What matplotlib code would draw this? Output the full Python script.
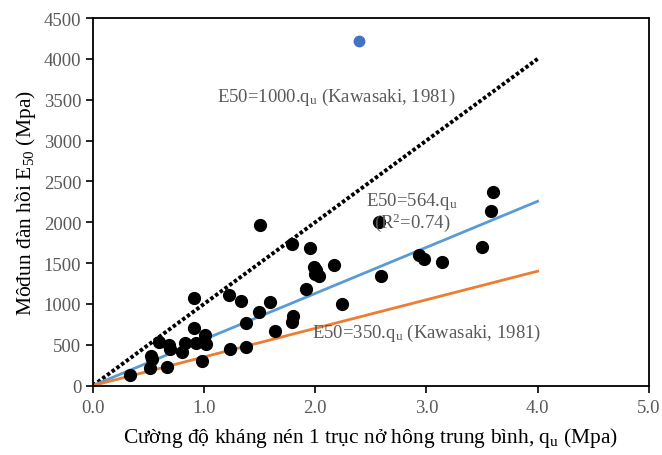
import matplotlib
matplotlib.use("Agg")
from matplotlib import pyplot as plt
import numpy as np

plt.rcParams['font.family'] = ['Liberation Serif', 'DejaVu Serif']
plt.rcParams['mathtext.fontset'] = 'custom'
plt.rcParams['mathtext.rm'] = 'Liberation Serif'
plt.rcParams['mathtext.it'] = 'Liberation Serif:italic'

# measured points (qu in Mpa, E50 in Mpa)
qu = [0.33, 0.51, 0.52, 0.53, 0.59, 0.67, 0.68, 0.69, 0.80, 0.83,
      0.91, 0.91, 0.93, 0.98, 1.01, 1.02, 1.22, 1.23, 1.33, 1.38,
      1.38, 1.49, 1.50, 1.59, 1.64, 1.79, 1.79, 1.80, 1.92, 1.95,
      1.99, 2.00, 2.03, 2.01, 2.17, 2.24, 2.57, 2.59, 2.93, 2.98,
      3.14, 3.50, 3.58, 3.60]
e50 = [130, 211, 365, 324, 536, 223, 496, 447, 414, 517,
       1071, 704, 520, 304, 618, 508, 1112, 447, 1038, 475,
       765, 896, 1965, 1026, 671, 1733, 774, 847, 1182, 1680,
       1447, 1365, 1344, 1414, 1476, 998, 1998, 1337, 1598, 1549,
       1516, 1692, 2140, 2373]

# outlier shown in blue
qu_out = [2.39]
e50_out = [4222]

# E50 = k * qu relations
line_x = [0.0, 4.0]
k_kawasaki_hi = 1000
k_fit = 564
k_kawasaki_lo = 350

x_ticks = [0.0, 1.0, 2.0, 3.0, 4.0, 5.0]
y_ticks = [0, 500, 1000, 1500, 2000, 2500, 3000, 3500, 4000, 4500]

fig = plt.figure(figsize=(6.62, 4.56), dpi=100)
ax = fig.add_axes([0.1405, 0.1524, 0.8395, 0.8059])

lx = np.array(line_x)
ax.plot(lx, k_kawasaki_hi * lx, color="black", linewidth=2.8, dashes=(0.9, 0.6), zorder=2)
ax.plot(lx, k_fit * lx, color="#5B9BD5", linewidth=2.0, zorder=2)
ax.plot(lx, k_kawasaki_lo * lx, color="#ED7D31", linewidth=2.0, zorder=2)

ax.plot(qu, e50, "o", color="black", markersize=8.5, zorder=3)
ax.plot(qu_out, e50_out, "o", color="#4472C4", markersize=7.5, zorder=3)

gray = "#595959"
ax.text(2.19, 3545, r"E50=1000.q$_\mathrm{u}$ (Kawasaki, 1981)", color=gray,
        fontsize=13.5, ha="center", va="center")
ax.text(2.87, 2130, "E50=564.q$_\\mathrm{u}$\n(R$^2$=0.74)", color=gray,
        fontsize=13.5, ha="center", va="center", linespacing=1.0)
ax.text(3.0, 651, r"E50=350.q$_\mathrm{u}$ (Kawasaki, 1981)", color=gray,
        fontsize=13.5, ha="center", va="center")

ax.set_xlim(0, 5)
ax.set_ylim(0, 4500)
ax.set_xticks(x_ticks)
ax.set_xticklabels(["{:.1f}".format(t) for t in x_ticks])
ax.set_yticks(y_ticks)
ax.tick_params(direction="out", length=5, width=1.2, labelsize=13.5, labelcolor=gray)
ax.tick_params(axis="x", pad=5)
for s in ax.spines.values():
    s.set_linewidth(1.3)
    s.set_color("black")

ax.set_xlabel(r"Cường độ kháng nén 1 trục nở hông trung bình, q$_\mathrm{u}$ (Mpa)",
              fontsize=15.5, labelpad=6)
ax.set_ylabel(r"Môđun đàn hồi E$_{50}$ (Mpa)", fontsize=15.5, labelpad=4)

fig.savefig("out.png", dpi=100)
